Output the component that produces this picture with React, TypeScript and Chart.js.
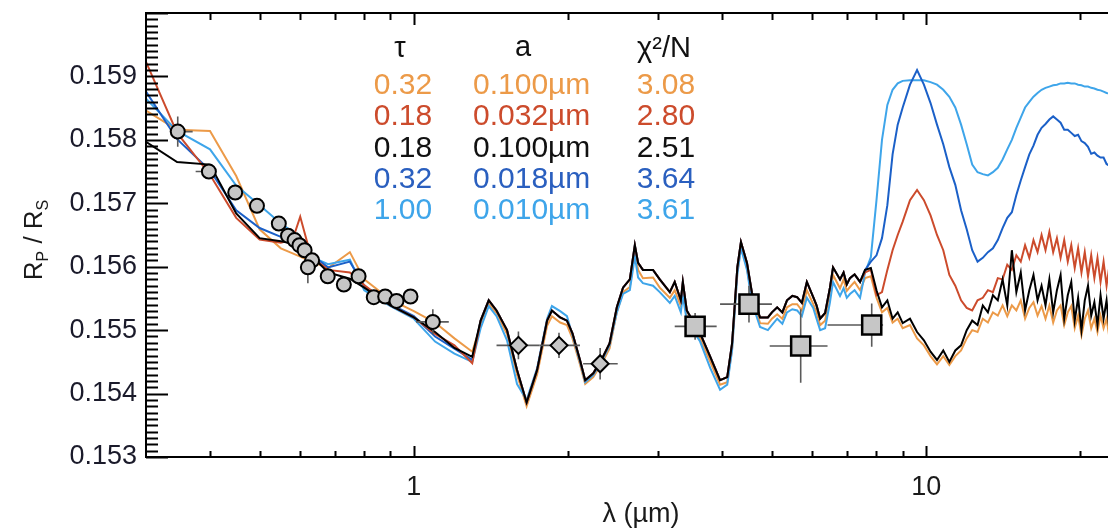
import React, { useEffect, useRef } from 'react';
import { Chart, registerables } from 'chart.js';

Chart.register(...registerables);

const FF = "'Liberation Sans', Arial, Helvetica, sans-serif";

// ---------- wavelength grids (µm) ----------
const wlOpt = [0.30, 0.345, 0.40, 0.45, 0.50, 0.55, 0.58, 0.60, 0.63, 0.68, 0.75, 0.80, 0.90, 1.00, 1.10, 1.20, 1.30];
const wlNir = [1.35, 1.40, 1.45, 1.52, 1.59, 1.66, 1.74, 1.82, 1.86, 1.93, 1.99, 2.04, 2.11, 2.16, 2.24, 2.34, 2.41, 2.49, 2.56, 2.64,
  2.70, 2.74, 2.80, 2.93, 3.02, 3.16, 3.23, 3.32, 3.35, 3.41, 3.62, 3.79, 3.96, 4.09, 4.18, 4.28, 4.35, 4.47, 4.57, 4.74,
  4.91, 5.00, 5.12, 5.24, 5.35, 5.48, 5.60, 5.72, 5.85, 6.02, 6.11, 6.21, 6.35, 6.49, 6.58, 6.79, 6.90, 7.00, 7.10, 7.25, 7.43];
const wlMir = [7.6, 7.8, 8.0, 8.2, 8.4, 8.6, 8.8, 9.0, 9.3, 9.6, 9.9, 10.2, 10.5, 10.8, 11.1, 11.4, 11.7, 12.0, 12.3, 12.6,
  12.9, 13.2, 13.5, 13.8, 14.1, 14.4, 14.7, 15.0, 15.3, 15.6, 15.9, 16.2, 16.5, 16.8, 17.1, 17.4, 17.7, 18.0, 18.3, 18.6,
  18.9, 19.2, 19.5, 19.8, 20.1, 20.4, 20.7, 21.0, 21.3, 21.6, 21.9, 22.2, 22.5, 22.8, 23.1, 23.4, 23.7, 24.0];

// ---------- model Rp/Rs : optical part ----------
const optOrange = [0.15846, 0.15816, 0.15814, 0.15743, 0.15659, 0.15629, 0.15621, 0.15616, 0.15608, 0.15598, 0.15623, 0.15580, 0.15548, 0.15530, 0.15512, 0.15487, 0.15466];
const optRed = [0.15923, 0.15811, 0.15745, 0.15677, 0.15643, 0.15638, 0.15643, 0.15679, 0.15616, 0.15595, 0.15591, 0.15571, 0.15539, 0.15520, 0.15494, 0.15476, 0.15448];
const optBlack = [0.15797, 0.15765, 0.15761, 0.15684, 0.15645, 0.15640, 0.15637, 0.15629, 0.15618, 0.15591, 0.15581, 0.15567, 0.15539, 0.15520, 0.15497, 0.15472, 0.15458];
const optBlue = [0.15876, 0.15801, 0.15752, 0.15689, 0.15661, 0.15647, 0.15642, 0.15635, 0.15619, 0.15599, 0.15608, 0.15570, 0.15541, 0.15522, 0.15490, 0.15471, 0.15453];
const optLightBlue = [0.15865, 0.15814, 0.15785, 0.15728, 0.15697, 0.15668, 0.15655, 0.15642, 0.15616, 0.15604, 0.15611, 0.15563, 0.15538, 0.15518, 0.15482, 0.15463, 0.15450];

// ---------- near-IR part ----------
const nirBlack = [0.15515, 0.15547, 0.15531, 0.15500, 0.15437, 0.15386, 0.15437, 0.15515, 0.15531, 0.15520,
  0.15515, 0.15495, 0.15453, 0.15421, 0.15432, 0.15458, 0.15479, 0.15536, 0.15567, 0.15580,
  0.15634, 0.15606, 0.15595, 0.15595, 0.15580, 0.15560, 0.15576, 0.15547, 0.15576, 0.15531,
  0.15495, 0.15458, 0.15421, 0.15426, 0.15479, 0.15599, 0.15639, 0.15606, 0.15559, 0.15520,
  0.15520, 0.15528, 0.15536, 0.15528, 0.15547, 0.15554, 0.15552, 0.15543, 0.15576, 0.15552,
  0.15539, 0.15518, 0.15527, 0.15567, 0.15599, 0.15580, 0.15591, 0.15572, 0.15582, 0.15588, 0.15576];
const nirOrange = [0.15508, 0.15541, 0.15527, 0.15494, 0.15430, 0.15380, 0.15430, 0.15507, 0.15522, 0.15512,
  0.15508, 0.15487, 0.15446, 0.15415, 0.15426, 0.15451, 0.15471, 0.15528, 0.15560, 0.15568,
  0.15623, 0.15595, 0.15582, 0.15583, 0.15567, 0.15551, 0.15563, 0.15538, 0.15563, 0.15522,
  0.15487, 0.15450, 0.15414, 0.15418, 0.15471, 0.15591, 0.15631, 0.15598, 0.15551, 0.15511,
  0.15510, 0.15518, 0.15525, 0.15518, 0.15536, 0.15541, 0.15541, 0.15531, 0.15563, 0.15541,
  0.15528, 0.15508, 0.15515, 0.15555, 0.15587, 0.15566, 0.15580, 0.15562, 0.15568, 0.15576, 0.15563];
const nirLightBlue = [0.15503, 0.15538, 0.15522, 0.15484, 0.15415, 0.15390, 0.15440, 0.15518, 0.15538, 0.15530,
  0.15522, 0.15492, 0.15450, 0.15418, 0.15429, 0.15455, 0.15476, 0.15528, 0.15557, 0.15563,
  0.15616, 0.15583, 0.15574, 0.15570, 0.15560, 0.15543, 0.15554, 0.15528, 0.15554, 0.15515,
  0.15482, 0.15440, 0.15406, 0.15414, 0.15468, 0.15588, 0.15629, 0.15595, 0.15544, 0.15505,
  0.15500, 0.15508, 0.15518, 0.15510, 0.15528, 0.15533, 0.15531, 0.15522, 0.15551, 0.15535,
  0.15518, 0.15500, 0.15503, 0.15544, 0.15576, 0.15554, 0.15566, 0.15551, 0.15557, 0.15563, 0.15551];

// ---------- mid-IR part ----------
const mirOrange = [0.15582, 0.15585, 0.15551, 0.15528, 0.15535, 0.15512, 0.15518,
  0.15503, 0.15508, 0.15487, 0.15476, 0.15459, 0.15446, 0.15459, 0.15445, 0.15459, 0.15468,
  0.15487, 0.15500, 0.15497, 0.15518, 0.15512, 0.15528, 0.15523, 0.15539, 0.15522, 0.15539,
  0.15531, 0.15547, 0.15518, 0.15535, 0.15544, 0.15523, 0.15538, 0.15518, 0.15539, 0.15512,
  0.15531, 0.15539, 0.15508, 0.15528, 0.15538, 0.15503, 0.15523, 0.15492, 0.15518, 0.15531,
  0.15503, 0.15518, 0.15497, 0.15523, 0.15503, 0.15518, 0.15487, 0.15512, 0.15500, 0.15512, 0.15508];
const mirRed = [0.15591, 0.15595, 0.15555, 0.15560, 0.15595, 0.15626, 0.15650,
  0.15671, 0.15705, 0.15721, 0.15705, 0.15681, 0.15650, 0.15626, 0.15587, 0.15570, 0.15547,
  0.15535, 0.15531, 0.15547, 0.15551, 0.15563, 0.15560, 0.15582, 0.15580, 0.15603, 0.15595,
  0.15618, 0.15608, 0.15634, 0.15614, 0.15642, 0.15623, 0.15650, 0.15626, 0.15655, 0.15623,
  0.15645, 0.15614, 0.15642, 0.15608, 0.15634, 0.15598, 0.15629, 0.15591, 0.15623, 0.15585,
  0.15618, 0.15582, 0.15614, 0.15576, 0.15608, 0.15570, 0.15603, 0.15566, 0.15598, 0.15570, 0.15591];
const mirBlack = [0.15595, 0.15598, 0.15563, 0.15536, 0.15547, 0.15518, 0.15528,
  0.15511, 0.15518, 0.15497, 0.15484, 0.15466, 0.15453, 0.15468, 0.15450, 0.15468, 0.15476,
  0.15500, 0.15515, 0.15508, 0.15539, 0.15528, 0.15555, 0.15547, 0.15580, 0.15539, 0.15626,
  0.15560, 0.15591, 0.15531, 0.15563, 0.15587, 0.15547, 0.15570, 0.15539, 0.15580, 0.15528,
  0.15563, 0.15587, 0.15518, 0.15555, 0.15576, 0.15515, 0.15551, 0.15500, 0.15547, 0.15570,
  0.15523, 0.15544, 0.15508, 0.15555, 0.15518, 0.15547, 0.15497, 0.15539, 0.15515, 0.15535, 0.15528];
const mirBlue = [0.15595, 0.15608, 0.15618, 0.15645, 0.15697, 0.15777, 0.15824,
  0.15851, 0.15887, 0.15910, 0.15887, 0.15858, 0.15824, 0.15793, 0.15757, 0.15729, 0.15689,
  0.15659, 0.15626, 0.15608, 0.15614, 0.15623, 0.15629, 0.15642, 0.15661, 0.15677, 0.15686,
  0.15713, 0.15736, 0.15757, 0.15777, 0.15791, 0.15808, 0.15819, 0.15825, 0.15832, 0.15837,
  0.15832, 0.15827, 0.15816, 0.15816, 0.15811, 0.15806, 0.15808, 0.15798, 0.15795, 0.15789,
  0.15778, 0.15780, 0.15775, 0.15772, 0.15772, 0.15762, 0.15759, 0.15748, 0.15749, 0.15744, 0.15741];
const mirLightBlue = [0.15591, 0.15615, 0.15705, 0.15800, 0.15855, 0.15879, 0.15889,
  0.15893, 0.15894, 0.15894, 0.15894, 0.15891, 0.15887, 0.15879, 0.15868, 0.15851, 0.15824,
  0.15793, 0.15761, 0.15749, 0.15746, 0.15744, 0.15749, 0.15756, 0.15769, 0.15785, 0.15800,
  0.15819, 0.15835, 0.15851, 0.15860, 0.15868, 0.15874, 0.15879, 0.15882, 0.15884, 0.15886,
  0.15887, 0.15889, 0.15889, 0.15890, 0.15889, 0.15889, 0.15887, 0.15886, 0.15884, 0.15884,
  0.15882, 0.15881, 0.15879, 0.15878, 0.15876, 0.15874, 0.15873, 0.15871, 0.15868, 0.15866, 0.15865];

// ---------- observations ----------
const circWl = [0.346, 0.398, 0.448, 0.494, 0.545, 0.568, 0.585, 0.598, 0.612, 0.633, 0.621, 0.679, 0.730, 0.780, 0.835, 0.879, 0.925, 0.985, 1.089];
const circRp = [0.15813, 0.15750, 0.15717, 0.15696, 0.15668, 0.15649, 0.15642, 0.15634, 0.15626, 0.15610, 0.15599, 0.15585, 0.15572, 0.15585, 0.15552, 0.15553, 0.15546, 0.15553, 0.15513];
const circErr = [0.00024, 0.00008, 0.00008, 0.00008, 0.00008, 0.00008, 0.00008, 0.00008, 0.00008, 0.00008, 0.00025, 0.00008, 0.00008, 0.00008, 0.00008, 0.00008, 0.00008, 0.00008, 0.00020];
const circWlLo = [0.334, 0.375, 0.440, 0.486, 0.537, 0.562, 0.580, 0.593, 0.607, 0.628, 0.616, 0.672, 0.722, 0.772, 0.827, 0.871, 0.917, 0.976, 1.01];
const circWlHi = [0.370, 0.410, 0.456, 0.502, 0.553, 0.574, 0.590, 0.603, 0.617, 0.638, 0.626, 0.686, 0.738, 0.788, 0.843, 0.887, 0.933, 0.994, 1.17];

const diaWl = [1.60, 1.92, 2.31];
const diaRp = [0.15476, 0.15476, 0.15447];
const diaErr = [0.00022, 0.00020, 0.00025];
const diaWlLo = [1.45, 1.76, 2.14];
const diaWlHi = [1.76, 2.11, 2.50];

const sqWl = [3.54, 4.51, 5.69, 7.83];
const sqRp = [0.15506, 0.15541, 0.15475, 0.15508];
const sqErr = [0.00021, 0.00029, 0.00058, 0.00034];
const sqWlLo = [3.23, 3.96, 4.95, 6.42];
const sqWlHi = [3.90, 5.00, 6.42, 8.24];

// ---------- axes ----------
const xMin = 0.3, xMax = 25;
const yMin = 0.153, yMax = 0.160;
const xTickLabels = [1, 10];
const yTickLabels = [0.153, 0.154, 0.155, 0.156, 0.157, 0.158, 0.159];
const xMinorTicks = [0.4, 0.5, 0.6, 0.7, 0.8, 0.9, 2, 3, 4, 5, 6, 7, 8, 9, 20];

// ---------- legend table ----------
const tableTau = ['0.32', '0.18', '0.18', '0.32', '1.00'];
const tableA = ['0.100µm', '0.032µm', '0.100µm', '0.018µm', '0.010µm'];
const tableChi = ['3.08', '2.80', '2.51', '3.64', '3.61'];

const C_ORANGE = '#EC9A48';
const C_RED = '#CC4B2C';
const C_BLACK = '#000000';
const C_BLUE = '#1B60C8';
const C_LBLUE = '#3EA5EA';
const tableColors = [C_ORANGE, C_RED, '#111111', '#2A5FBF', C_LBLUE];

function series(opt: number[], nir: number[], mir: number[]) {
  const wl = [...wlOpt, ...wlNir, ...wlMir];
  const v = [...opt, ...nir, ...mir];
  return wl.map((x, i) => ({ x, y: v[i] }));
}

function pts(wl: number[], rp: number[]) {
  return wl.map((x, i) => ({ x, y: rp[i] }));
}

const BLACK_INDEX = 4;

const framePlugin = {
  id: 'frame',
  afterDatasetDraw(chart: any, args: any) {
    if (args.index !== BLACK_INDEX) return;
    const ctx = chart.ctx;
    const xs = chart.scales.x, ys = chart.scales.y;
    ctx.save();
    ctx.strokeStyle = '#5a5a5a';
    ctx.lineWidth = 1.6;
    const groups = [
      [circWl, circRp, circErr, circWlLo, circWlHi],
      [diaWl, diaRp, diaErr, diaWlLo, diaWlHi],
      [sqWl, sqRp, sqErr, sqWlLo, sqWlHi],
    ];
    for (const [wl, rp, er, lo, hi] of groups) {
      for (let i = 0; i < wl.length; i++) {
        const px = xs.getPixelForValue(wl[i]);
        const py = ys.getPixelForValue(rp[i]);
        ctx.beginPath();
        ctx.moveTo(px, ys.getPixelForValue(rp[i] - er[i]));
        ctx.lineTo(px, ys.getPixelForValue(rp[i] + er[i]));
        ctx.moveTo(xs.getPixelForValue(lo[i]), py);
        ctx.lineTo(xs.getPixelForValue(hi[i]), py);
        ctx.stroke();
      }
    }
    ctx.restore();
  },
  afterDraw(chart: any) {
    const ctx = chart.ctx;
    const { left, right, top, bottom } = chart.chartArea;
    const xs = chart.scales.x, ys = chart.scales.y;
    ctx.save();
    ctx.strokeStyle = '#000';
    ctx.lineWidth = 2;
    ctx.strokeRect(left, top, right - left, bottom - top);
    ctx.beginPath();
    for (let k = 1530; k <= 1600; k++) {
      const y = Math.round(ys.getPixelForValue(k / 10000)) + 0.5;
      const len = k % 10 === 0 ? 22 : 12;
      ctx.moveTo(left, y); ctx.lineTo(left + len, y);
      ctx.moveTo(right, y); ctx.lineTo(right - len, y);
    }
    const xt = [...xMinorTicks.map((v) => [v, 6]), ...xTickLabels.map((v) => [v, 11])];
    for (const [v, len] of xt) {
      const x = Math.round(xs.getPixelForValue(v)) + 0.5;
      ctx.moveTo(x, bottom); ctx.lineTo(x, bottom - len);
      ctx.moveTo(x, top); ctx.lineTo(x, top + len + 1);
    }
    ctx.stroke();

    // axis titles
    ctx.fillStyle = '#1a1a1a';
    ctx.font = `27px ${FF}`;
    ctx.textAlign = 'center';
    ctx.textBaseline = 'middle';
    ctx.fillText('λ (µm)', 633, 507);

    ctx.save();
    ctx.translate(25, 232);
    ctx.rotate(-Math.PI / 2);
    ctx.textAlign = 'left';
    ctx.textBaseline = 'alphabetic';
    const big = `26px ${FF}`, small = `16px ${FF}`;
    const parts: [string, string, number][] = [['R', big, 0], ['P', small, 6], [' / R', big, 0], ['S', small, 6]];
    let total = 0;
    for (const [t, f] of parts) { ctx.font = f; total += ctx.measureText(t).width; }
    let cx = -total / 2;
    for (const [t, f, dy] of parts) {
      ctx.font = f;
      ctx.fillText(t, cx, 9 + dy);
      cx += ctx.measureText(t).width;
    }
    ctx.restore();

    // legend table
    ctx.textBaseline = 'middle';
    ctx.fillStyle = '#111';
    ctx.font = `29px ${FF}`;
    ctx.textAlign = 'center';
    ctx.fillText('τ', 392, 41);
    ctx.fillText('a', 515, 40);
    ctx.fillText('χ²/N', 656, 41);
    ctx.font = `30px ${FF}`;
    for (let i = 0; i < tableTau.length; i++) {
      const y = 78 + i * 31.2;
      ctx.fillStyle = tableColors[i];
      ctx.textAlign = 'center';
      ctx.fillText(tableTau[i], 395, y);
      ctx.textAlign = 'left';
      ctx.fillText(tableA[i], 465, y);
      ctx.textAlign = 'center';
      ctx.fillText(tableChi[i], 658, y);
    }
    ctx.restore();
  },
};

export default function App() {
  const ref = useRef<HTMLCanvasElement>(null);
  useEffect(() => {
    const lineDs = (label: string, data: any[], color: string, order: number, width = 2) => ({
      label, data, borderColor: color, backgroundColor: color, borderWidth: width,
      showLine: true, pointRadius: 0, tension: 0, order,
    });
    const chart = new Chart(ref.current as HTMLCanvasElement, {
      type: 'scatter',
      data: {
        datasets: [
          lineDs('τ=0.32 a=0.100µm', series(optOrange, nirOrange, mirOrange), C_ORANGE, 7),
          lineDs('τ=1.00 a=0.010µm', series(optLightBlue, nirLightBlue, mirLightBlue), C_LBLUE, 6),
          lineDs('τ=0.32 a=0.018µm', series(optBlue, nirBlack, mirBlue), C_BLUE, 5),
          lineDs('τ=0.18 a=0.032µm', series(optRed, nirBlack, mirRed), C_RED, 4),
          lineDs('τ=0.18 a=0.100µm', series(optBlack, nirBlack, mirBlack), C_BLACK, 3),
          {
            label: 'STIS', data: pts(circWl, circRp), pointStyle: 'circle', pointRadius: 7,
            backgroundColor: '#C6C6C6', borderColor: '#000', borderWidth: 2, showLine: false, order: 2,
          },
          {
            label: 'NICMOS', data: pts(diaWl, diaRp), pointStyle: 'rectRot', pointRadius: 8.5,
            backgroundColor: '#C6C6C6', borderColor: '#000', borderWidth: 2, showLine: false, order: 1,
          },
          {
            label: 'Spitzer', data: pts(sqWl, sqRp), pointStyle: 'rect', pointRadius: 13.5,
            backgroundColor: '#C6C6C6', borderColor: '#000', borderWidth: 2.5, showLine: false, order: 0,
          },
        ] as any,
      },
      options: {
        responsive: false,
        animation: false,
        devicePixelRatio: 1,
        layout: { autoPadding: false, padding: { left: 0, top: 5, right: 18, bottom: 0 } },
        plugins: { legend: { display: false }, tooltip: { enabled: false } },
        scales: {
          x: {
            type: 'logarithmic', min: xMin, max: xMax,
            grid: { display: false, drawTicks: false }, border: { display: false },
            ticks: {
              font: { size: 27, family: FF }, color: '#1a1a1a', padding: 14,
              maxRotation: 0, autoSkip: false, callback: (v: any) => String(v),
            },
            afterBuildTicks: (s: any) => { s.ticks = xTickLabels.map((v) => ({ value: v })); },
            afterFit: (s: any) => {
              s.height = 74;
              s.paddingLeft = 0; s.paddingRight = 0; s.paddingTop = 0; s.paddingBottom = 0;
            },
          },
          y: {
            type: 'linear', min: yMin, max: yMax,
            grid: { display: false, drawTicks: false }, border: { display: false },
            ticks: {
              font: { size: 27, family: FF }, color: '#1a1a2a', padding: 9,
              callback: (v: any) => Number(v).toFixed(3),
            },
            afterBuildTicks: (s: any) => { s.ticks = yTickLabels.map((v) => ({ value: v })); },
            afterFit: (s: any) => {
              s.width = 138;
              s.paddingLeft = 0; s.paddingRight = 0; s.paddingTop = 0; s.paddingBottom = 0;
            },
          },
        },
      } as any,
      plugins: [framePlugin],
    });
    return () => chart.destroy();
  }, []);
  return (
    <div style={{ width: 1108, height: 523, overflow: 'hidden' }}>
      <canvas ref={ref} width={1140} height={523} style={{ display: 'block', width: 1140, height: 523 }} />
    </div>
  );
}
